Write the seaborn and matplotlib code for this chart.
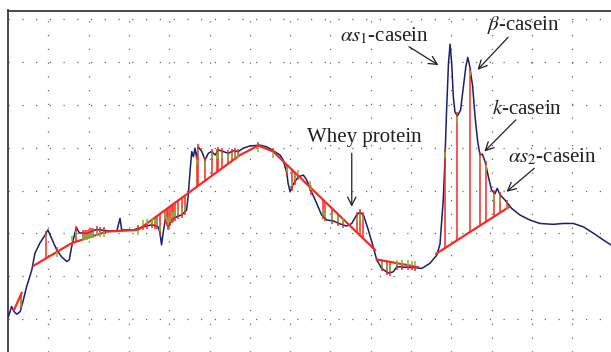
import numpy as np
import matplotlib
matplotlib.use('Agg')
import matplotlib.pyplot as plt
import seaborn as sns

# ── Chromatogram trace (retention in grid units, absorbance in grid units) ──
time = [0.01, 0.09, 0.15, 0.22, 0.30, 0.38, 0.46, 0.59, 0.67, 0.79,
        0.92, 0.99, 1.08, 1.21, 1.33, 1.46, 1.52, 1.58, 1.66, 1.70,
        1.77, 1.95, 2.20, 2.45, 2.70, 2.78, 2.82, 3.11, 3.28, 3.52,
        3.61, 3.73, 3.77, 3.81, 3.85, 3.90, 3.98, 4.06, 4.19, 4.31,
        4.43, 4.47, 4.52, 4.56, 4.60, 4.64, 4.68, 4.72, 4.81, 4.89,
        4.97, 5.05, 5.14, 5.22, 5.34, 5.47, 5.59, 5.71, 5.84, 6.00,
        6.25, 6.42, 6.58, 6.75, 6.83, 6.92, 6.95, 7.00, 7.08, 7.20,
        7.33, 7.41, 7.53, 7.66, 7.78, 7.91, 8.07, 8.24, 8.40, 8.53,
        8.65, 8.73, 8.82, 8.94, 9.06, 9.15, 9.27, 9.44, 9.56, 9.65,
        9.81, 10.06, 10.27, 10.47, 10.64, 10.72, 10.80, 10.84, 10.88, 10.93,
        10.97, 11.01, 11.05, 11.09, 11.15, 11.23, 11.30, 11.36, 11.41, 11.46,
        11.53, 11.59, 11.65, 11.71, 11.77, 11.84, 11.92, 12.00, 12.08, 12.14,
        12.21, 12.33, 12.50, 12.70, 12.95, 13.20, 13.53, 13.78, 14.03, 14.28,
        14.53, 14.78, 14.96]
signal = [1.05, 1.29, 1.17, 1.11, 1.17, 1.44, 1.75, 2.14, 2.54, 2.77,
          2.96, 3.08, 2.89, 2.61, 2.45, 2.34, 2.38, 2.69, 3.01, 3.13,
          3.01, 3.00, 3.09, 3.06, 3.05, 3.35, 3.08, 3.08, 3.13, 3.19,
          3.19, 3.15, 3.01, 2.73, 3.01, 3.31, 3.15, 3.31, 3.39, 3.43,
          3.54, 3.86, 4.48, 4.91, 4.79, 4.99, 4.76, 5.02, 4.91, 4.71,
          4.87, 4.91, 4.83, 4.95, 4.91, 4.87, 4.93, 4.91, 4.99, 5.04,
          5.06, 5.02, 4.93, 4.83, 4.71, 4.40, 4.17, 3.97, 4.15, 4.32,
          4.36, 4.25, 3.97, 3.70, 3.43, 3.31, 3.29, 3.22, 3.17, 3.23,
          3.43, 3.49, 3.43, 3.08, 2.69, 2.38, 2.18, 2.07, 2.10, 2.22,
          2.21, 2.20, 2.18, 2.30, 2.49, 2.75, 3.78, 4.64, 5.80, 6.97,
          7.42, 6.97, 6.19, 5.84, 5.74, 5.88, 6.43, 6.89, 7.11, 6.89,
          6.43, 5.72, 5.18, 4.83, 4.85, 4.67, 4.32, 4.01, 3.92, 4.05,
          3.90, 3.78, 3.58, 3.43, 3.31, 3.23, 3.21, 3.23, 3.23, 3.15,
          3.00, 2.84, 2.73]

# ── Integration baselines ──
base_a_t = [0.15, 0.34]
base_a_y = [1.21, 1.61]
base_b_t = [0.63, 1.58, 2.45, 3.23, 5.76, 6.21, 6.58, 9.11]
base_b_y = [2.24, 2.77, 3.04, 3.08, 4.83, 5.05, 4.91, 2.61]
base_c_t = [9.15, 10.18]
base_c_y = [2.39, 2.21]
base_d_t = [10.62, 12.44]
base_d_y = [2.52, 3.62]

# ── Peak slice positions ──
drop_t = [0.33, 0.94, 1.21, 1.60, 1.69,
          1.86, 1.91, 1.96, 2.01, 2.07, 2.12, 2.20, 2.28, 2.37,
          3.23, 3.36, 3.44, 3.57, 3.65, 3.69, 3.77, 3.90, 3.94, 3.98,
          4.02, 4.06, 4.10, 4.14, 4.23, 4.31, 4.39,
          4.68, 4.72, 4.89, 5.05, 5.18, 5.22, 5.30, 5.47, 5.55, 5.63, 5.71,
          6.20, 6.58, 6.92, 7.04, 7.12, 7.20, 7.49, 7.53, 7.82, 7.87,
          8.03, 8.20, 8.32, 8.65, 8.73, 8.82,
          9.27, 9.40, 9.48, 9.65, 9.77, 9.93, 10.02, 10.10,
          10.85, 11.14, 11.47, 11.71, 11.85, 12.06, 12.21, 12.39]

# ── Peak labels ──
labels = [r'$\alpha s_1$-casein', r'$\beta$-casein', r'$k$-casein',
          r'$\alpha s_2$-casein', 'Whey protein']
label_t = [9.34, 12.79, 12.89, 13.51, 8.84]
label_y = [7.61, 7.87, 5.90, 4.78, 5.23]
arrow_tail_t = [9.95, 12.41, 12.60, 13.06, 8.53]
arrow_tail_y = [7.36, 7.58, 5.65, 4.52, 4.87]
arrow_tip_t = [10.68, 11.65, 11.82, 12.37, 8.53]
arrow_tip_y = [6.93, 6.82, 4.91, 3.97, 3.62]

sns.set_style('white')
plt.rcParams['font.family'] = ['Liberation Serif', 'DejaVu Serif']
plt.rcParams['mathtext.fontset'] = 'stix'

NAVY = '#1c1f6e'
RED = '#f52a22'
GREEN = '#6cbf3a'

fig = plt.figure(figsize=(6.11, 3.52), dpi=100)
ax = fig.add_axes([8 / 611, 0, 603 / 611, 341.5 / 352])

baselines = [(base_a_t, base_a_y), (base_b_t, base_b_y),
             (base_c_t, base_c_y), (base_d_t, base_d_y)]


def base_at(t):
    for bt, by in baselines:
        if bt[0] <= t <= bt[-1]:
            return np.interp(t, bt, by)
    return np.nan


# blue trace
sns.lineplot(x=time, y=signal, ax=ax, color=NAVY, lw=1.1,
             sort=False, estimator=None, zorder=3)

# red baselines
for bt, by in baselines:
    sns.lineplot(x=bt, y=by, ax=ax, color=RED, lw=1.6,
                 sort=False, estimator=None, zorder=4)

# slices: red from baseline to trace, green tick at the trace
drop_t = np.array(drop_t)
top = np.interp(drop_t, time, signal)
bot = np.array([base_at(t) for t in drop_t])
sgn = np.sign(top - bot)
sgn[sgn == 0] = 1
ax.vlines(drop_t, bot, top + 0.07 * sgn, color=RED, lw=1.1, zorder=4)
ax.vlines(drop_t, top - 0.04 * sgn, top - 0.16 * sgn, color=GREEN,
          lw=1.1, zorder=5)

# labels and arrows
for txt, tx, ty in zip(labels, label_t, label_y):
    ax.text(tx, ty, txt, ha='center', va='center', fontsize=15,
            color='#231f20', zorder=6)
for x0, y0, x1, y1 in zip(arrow_tail_t, arrow_tail_y, arrow_tip_t, arrow_tip_y):
    ax.annotate('', xy=(x1, y1), xytext=(x0, y0),
                arrowprops=dict(arrowstyle='->', color='#231f20', lw=0.9,
                                mutation_scale=15, shrinkA=0, shrinkB=0),
                zorder=6)

# frame and dotted grid
ax.set_xlim(0, 603 / 40.3)
ax.set_ylim(0.227, 8.206)
ax.set_xticks(range(1, 15))
ax.set_yticks(range(1, 9))
ax.grid(True, color='#666666', lw=0.9, linestyle=(0, (1, 10)))
ax.tick_params(length=0, labelleft=False, labelbottom=False)
ax.set_xlabel('')
ax.set_ylabel('')
for side in ['right', 'bottom']:
    ax.spines[side].set_visible(False)
for side in ['left', 'top']:
    ax.spines[side].set_color('#3a3a3a')
    ax.spines[side].set_linewidth(1.3)

plt.savefig('out.png', dpi=100)
plt.close()
